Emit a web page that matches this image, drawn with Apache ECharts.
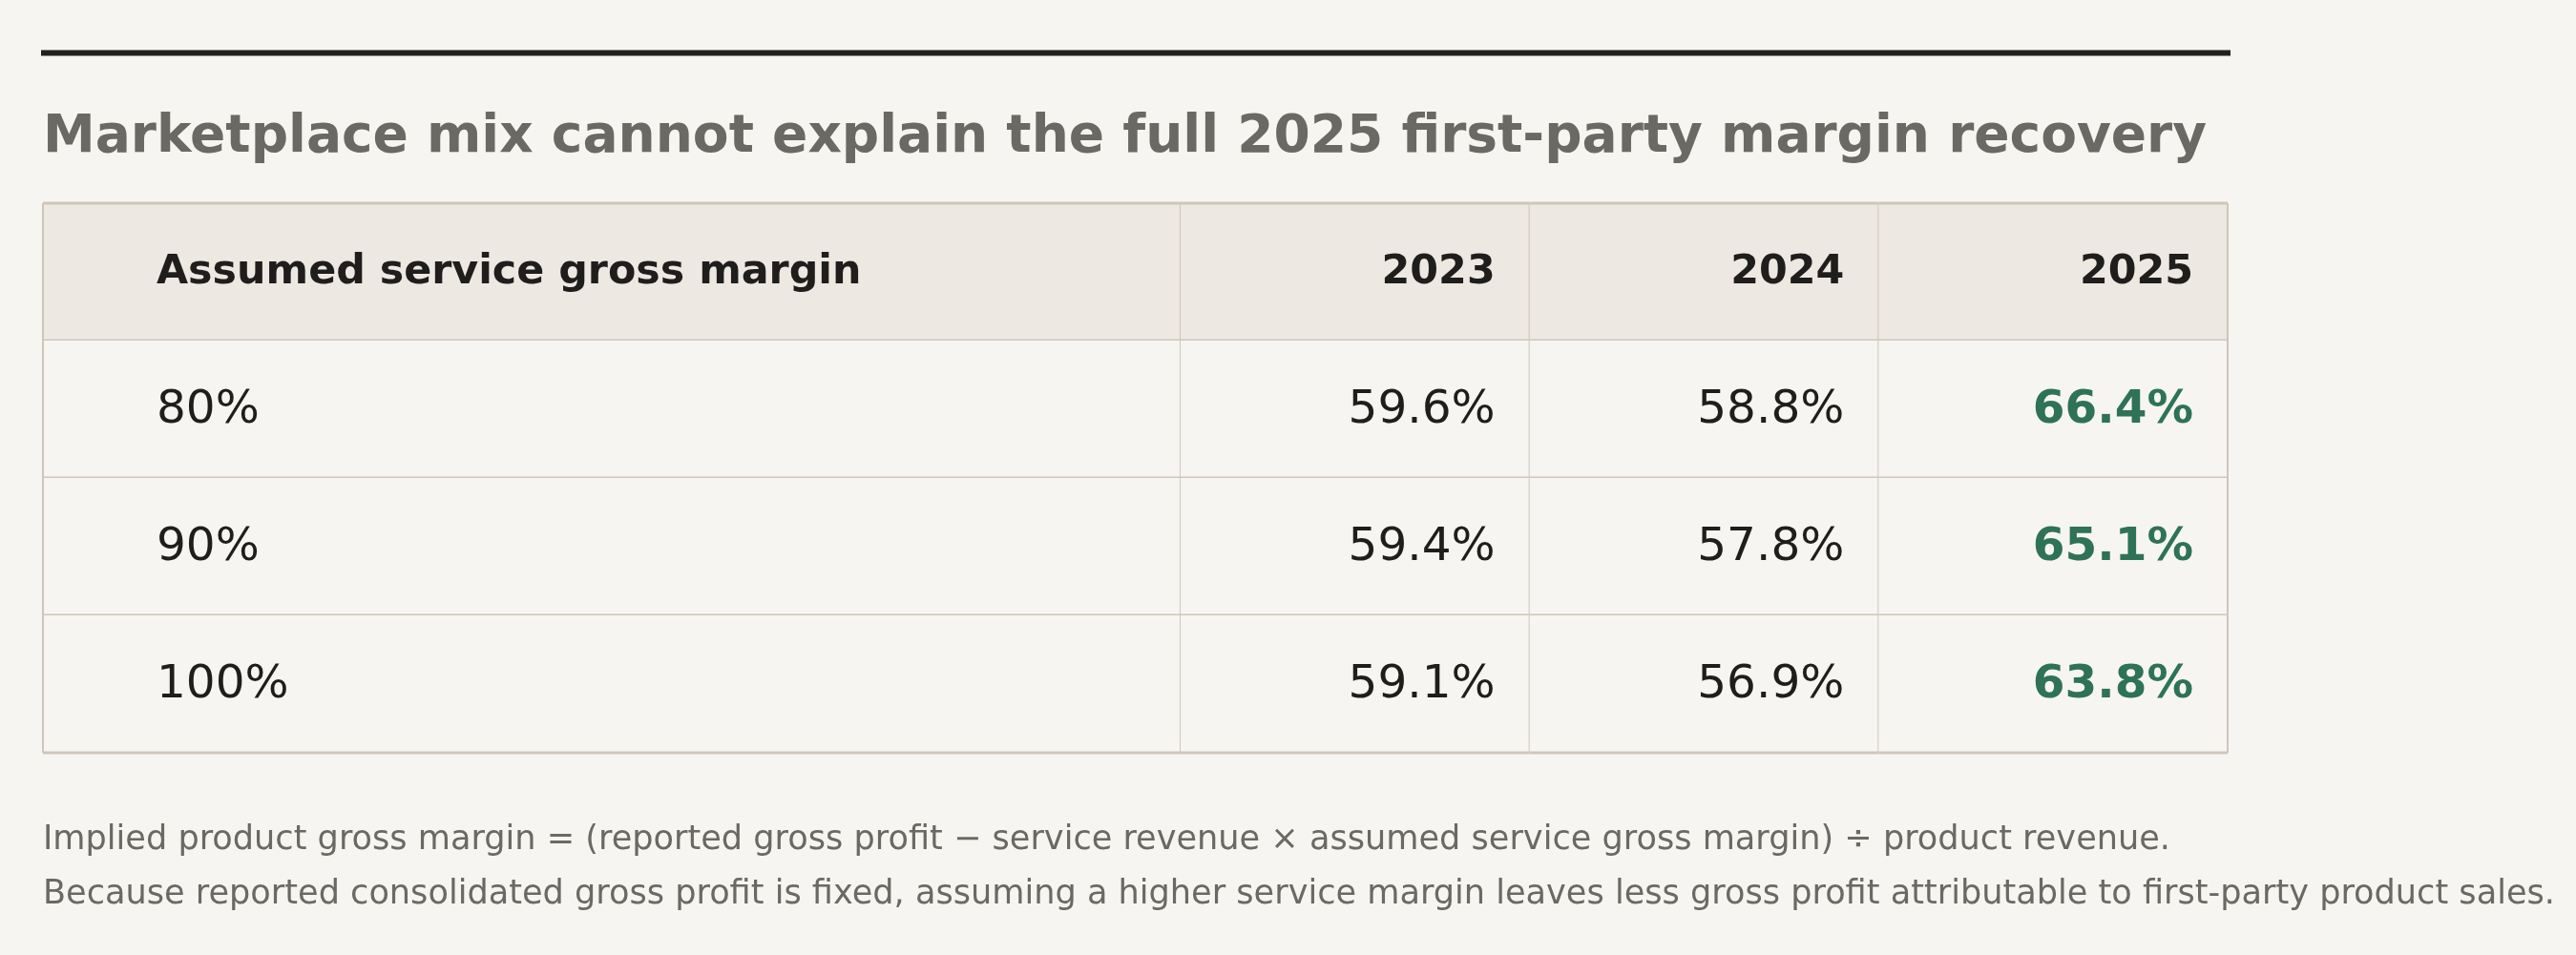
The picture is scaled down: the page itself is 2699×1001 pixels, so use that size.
<!DOCTYPE html>
<html>
<head>
<meta charset="utf-8">
<script src="https://cdn.jsdelivr.net/npm/echarts@6/dist/echarts.min.js"></script>
<style>
  html, body { margin: 0; padding: 0; background: #f7f5f1; }
  #chart { width: 2699px; height: 1001px; }
</style>
</head>
<body>
<div id="chart"></div>
<script>
// table content
var headerLabel = 'Assumed service gross margin';
var rowLabels = ['80%', '90%', '100%'];
var years = ['2023', '2024', '2025'];
var margin2023 = [59.6, 59.4, 59.1];
var margin2024 = [58.8, 57.8, 56.9];
var margin2025 = [66.4, 65.1, 63.8];

var titleText = 'Marketplace mix cannot explain the full 2025 first-party margin recovery';
var noteLines = [
    'Implied product gross margin = (reported gross profit \u2212 service revenue \u00d7 assumed service gross margin) \u00f7 product revenue.',
    'Because reported consolidated gross profit is fixed, assuming a higher service margin leaves less gross profit attributable to first-party product sales.'
];

var FONT = '"DejaVu Sans", sans-serif';
var INK = '#1f1e1c';
var GREEN = '#2d7259';
var GRID_LINE = '#cfc6b9';
var HEAD_BG = '#ede8e1';
var BODY_BG = '#f7f5f1';

var rowKeys = ['header'].concat(rowLabels);
var yearValues = [margin2023, margin2024, margin2025];

// cells for the label column: [col, row, text]
var labelCells = [[0, 0, headerLabel]];
rowLabels.forEach(function (r, i) { labelCells.push([0, i + 1, r]); });

// cells for the year columns
var yearCells = [];
years.forEach(function (y, c) { yearCells.push([c, 0, y]); });
yearValues.forEach(function (vals, c) {
    vals.forEach(function (v, r) { yearCells.push([c, r + 1, v.toFixed(1) + '%']); });
});

function makeRender(isLabelCol) {
    var cells = isLabelCol ? labelCells : yearCells;
    return function (params, api) {
        var xi = api.value(0), yi = api.value(1);
        var c = api.coord([xi, yi]);
        var s = api.size([1, 1]);
        var x0 = c[0] - s[0] / 2, y0 = c[1] - s[1] / 2, w = s[0], h = s[1];
        var text = cells[params.dataIndex][2];
        var isHead = yi === 0;
        var isLastYear = !isLabelCol && xi === years.length - 1;
        var children = [
            { type: 'rect', shape: { x: x0, y: y0, width: w, height: h },
              style: { fill: isHead ? HEAD_BG : BODY_BG } },
            { type: 'line', shape: { x1: x0, y1: y0 + h, x2: x0 + w, y2: y0 + h },
              style: { stroke: GRID_LINE, lineWidth: 3 } },
            { type: 'line', shape: { x1: x0 + w, y1: y0, x2: x0 + w, y2: y0 + h },
              style: { stroke: GRID_LINE, lineWidth: 2 } }
        ];
        if (isHead) {
            children.push({ type: 'line', shape: { x1: x0, y1: y0, x2: x0 + w, y2: y0 },
                style: { stroke: GRID_LINE, lineWidth: 3 } });
        }
        if (isLabelCol) {
            children.push({ type: 'line', shape: { x1: x0, y1: y0, x2: x0, y2: y0 + h },
                style: { stroke: GRID_LINE, lineWidth: 2 } });
        }
        children.push({
            type: 'text',
            style: {
                text: text,
                x: isLabelCol ? x0 + 119 : x0 + w - 36,
                y: c[1] + 1,
                align: isLabelCol ? 'left' : 'right',
                verticalAlign: 'middle',
                fontFamily: FONT,
                fontSize: isHead ? 42.8 : 48.5,
                fontWeight: (isHead || isLastYear) ? 'bold' : 'normal',
                fill: (isLastYear && !isHead) ? GREEN : INK
            }
        });
        return { type: 'group', children: children };
    };
}

var chart = echarts.init(document.getElementById('chart'));

var option = {
    backgroundColor: BODY_BG,
    animation: false,
    grid: [
        { left: 45, top: 213, width: 1192, height: 576 },
        { left: 1237, top: 213, width: 1097, height: 576 }
    ],
    xAxis: [
        { type: 'category', gridIndex: 0, data: ['label'], show: false },
        { type: 'category', gridIndex: 1, data: years, show: false }
    ],
    yAxis: [
        { type: 'category', gridIndex: 0, data: rowKeys, inverse: true, show: false },
        { type: 'category', gridIndex: 1, data: rowKeys, inverse: true, show: false }
    ],
    series: [
        { type: 'custom', xAxisIndex: 0, yAxisIndex: 0, data: labelCells,
          encode: { x: 0, y: 1 }, renderItem: makeRender(true) },
        { type: 'custom', xAxisIndex: 1, yAxisIndex: 1, data: yearCells,
          encode: { x: 0, y: 1 }, renderItem: makeRender(false) }
    ],
    graphic: [
        { type: 'line', shape: { x1: 43, y1: 55.5, x2: 2337, y2: 55.5 },
          style: { stroke: '#222120', lineWidth: 6 } },
        { type: 'text', left: 45, top: 117,
          style: { text: titleText, fontFamily: FONT, fontSize: 55, fontWeight: 'bold', fill: '#6b6964' } },
        { type: 'text', left: 45, top: 863,
          style: { text: noteLines[0], fontFamily: FONT, fontSize: 35.12, fill: '#6b6964' } },
        { type: 'text', left: 45, top: 920,
          style: { text: noteLines[1], fontFamily: FONT, fontSize: 35.12, fill: '#6b6964' } }
    ]
};

chart.setOption(option);
</script>
</body>
</html>
